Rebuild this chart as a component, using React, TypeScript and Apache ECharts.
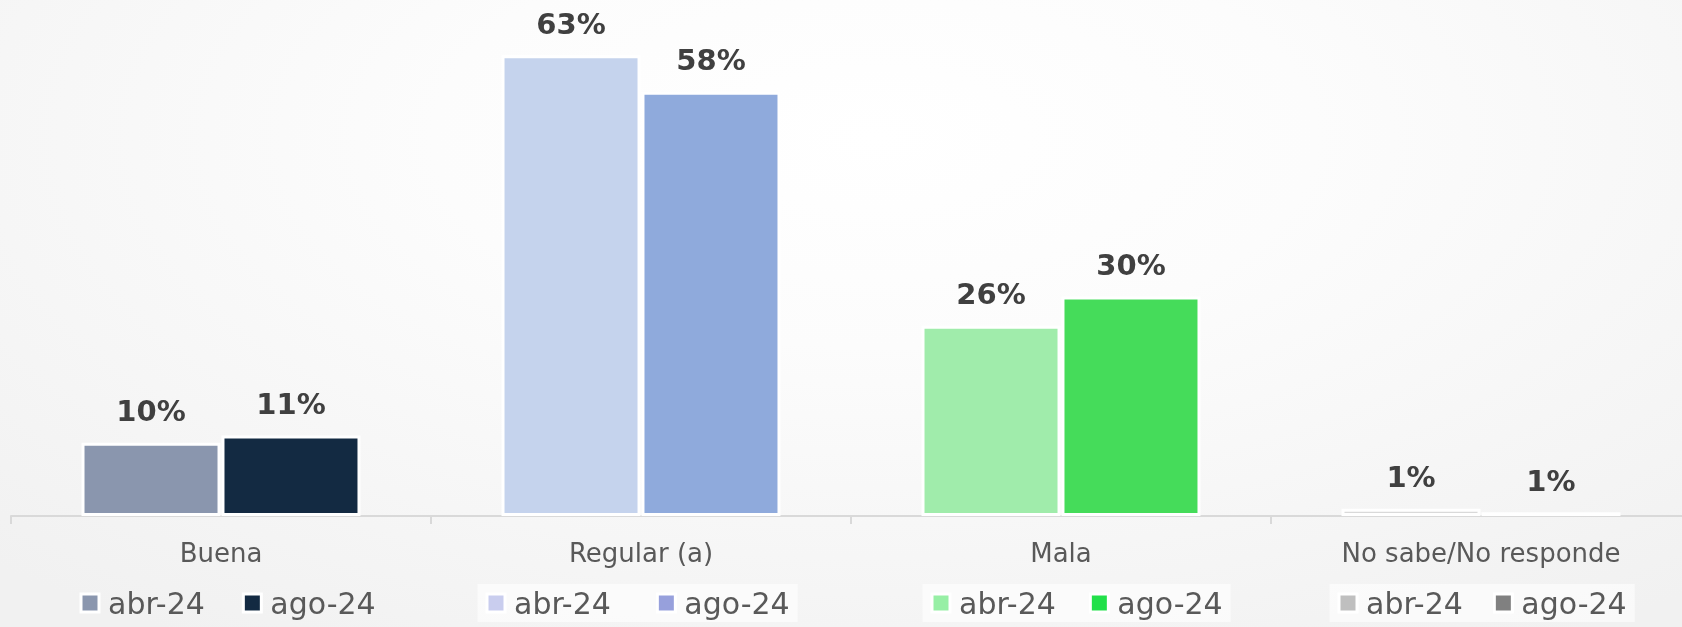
import React, { useEffect, useRef } from "react";
import * as echarts from "echarts";

const categories = ["Buena", "Regular (a)", "Mala", "No sabe/No responde"];
const seriesNames = ["abr-24", "ago-24"];
const abr24 = [10, 63, 26, 1];
const ago24 = [11, 58, 30, 0.5];
const abrBarColors = ["#8a96ae", "#c5d3ed", "#a0ecab", "#d9d9d9"];
const agoBarColors = ["#132a42", "#8faadc", "#45dc5a", "#ffffff"];
const abrLegendColors = ["#8a96ae", "#c9cdee", "#97efa5", "#bfbfbf"];
const agoLegendColors = ["#132a42", "#97a0dc", "#22e04a", "#808080"];

const FONT = "DejaVu Sans";

export default function App() {
  const ref = useRef<HTMLDivElement>(null);
  useEffect(() => {
    if (!ref.current) return;
    const chart = echarts.init(ref.current, undefined, { renderer: "svg" });

    const legendLefts = [71.5, 477.5, 922.5, 1329.5];
    const legendGaps = [37, 45, 33, 30];
    const legendBg = ["transparent", "rgba(255,255,255,0.6)", "rgba(255,255,255,0.6)", "rgba(255,255,255,0.6)"];

    const legends = categories.map((_, i) => ({
      left: legendLefts[i],
      top: 584,
      orient: "horizontal",
      icon: "rect",
      itemWidth: 18,
      itemHeight: 18,
      itemGap: legendGaps[i],
      padding: [4, 8, 4, 8],
      backgroundColor: legendBg[i],
      selectedMode: false,
      textStyle: { fontFamily: FONT, fontSize: 30, color: "#595959", padding: [0, 0, 0, 4] },
      data: [
        { name: seriesNames[0], itemStyle: { color: abrLegendColors[i], borderColor: "#ffffff", borderWidth: 3 } },
        { name: seriesNames[1], itemStyle: { color: agoLegendColors[i], borderColor: "#ffffff", borderWidth: 3 } },
      ],
    }));

    const label = {
      show: true,
      position: "top",
      distance: 17,
      fontFamily: FONT,
      fontSize: 29,
      fontWeight: "bold",
      color: "#404040",
      formatter: (p: any) => Math.round(p.value) + "%",
    };

    chart.setOption({
      animation: false,
      backgroundColor: "transparent",
      grid: { left: 11, right: 9, top: 4, bottom: 111, containLabel: false },
      legend: legends,
      xAxis: {
        type: "category",
        data: categories,
        axisLine: { show: true, lineStyle: { color: "#d9d9d9", width: 2 } },
        axisTick: { show: true, length: 8, lineStyle: { color: "#d9d9d9", width: 2 } },
        axisLabel: { fontFamily: FONT, fontSize: 26, color: "#595959", margin: 24, interval: 0 },
      },
      yAxis: {
        type: "value",
        min: 0,
        max: 70,
        show: false,
        splitLine: { show: false },
      },
      series: [
        {
          name: seriesNames[0],
          type: "bar",
          barWidth: 139,
          barGap: "0.7%",
          label,
          itemStyle: { borderColor: "#ffffff", borderWidth: 3 },
          data: abr24.map((v, i) => ({ value: v, itemStyle: { color: abrBarColors[i] } })),
        },
        {
          name: seriesNames[1],
          type: "bar",
          barWidth: 139,
          barGap: "0.7%",
          label,
          itemStyle: { borderColor: "#ffffff", borderWidth: 3 },
          data: ago24.map((v, i) => ({ value: v, itemStyle: { color: agoBarColors[i] } })),
        },
      ],
    });
    return () => chart.dispose();
  }, []);

  return (
    <div
      style={{
        position: "fixed",
        left: 0,
        top: 0,
        width: 1682,
        height: 627,
        overflow: "hidden",
        background: "radial-gradient(ellipse 75% 95% at 52% 22%, #ffffff 0%, #fcfcfc 35%, #f1f1f1 100%)",
      }}
    >
      <div ref={ref} style={{ width: 1700, height: 627 }} />
    </div>
  );
}
